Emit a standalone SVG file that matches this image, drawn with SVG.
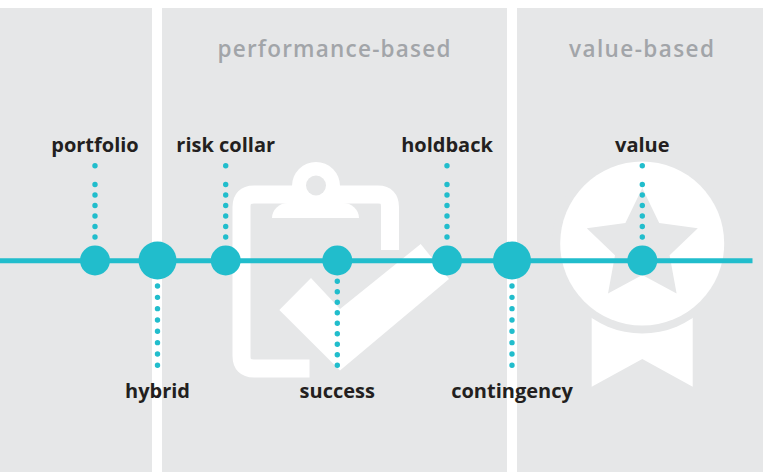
<svg xmlns="http://www.w3.org/2000/svg" width="763" height="472" viewBox="0 0 763 472">
  <style>
    .panel { fill: #e6e7e8; }
    .icon { fill: #ffffff; }
    .bgcut { fill: #e6e7e8; }
    .title { font-family: "Open Sans", "Liberation Sans", sans-serif; font-weight: 600; font-size: 22.5px; fill: #a2a5a9; text-anchor: middle; }
    .label { font-family: "Open Sans", "Liberation Sans", sans-serif; font-weight: 700; font-size: 20px; fill: #231f20; text-anchor: middle; }
    .node { fill: #21bdcc; }
    .timeline { stroke: #21bdcc; stroke-width: 5; fill: none; }
    .dots { stroke: #21bdcc; stroke-width: 5.4; stroke-linecap: round; fill: none; }
  </style>
  <rect width="763" height="472" fill="#ffffff"/>

  <g id="panels">
    <rect class="panel" x="0" y="8" width="152" height="464"/>
    <rect class="panel" x="162" y="8" width="345" height="464"/>
    <rect class="panel" x="517" y="8" width="246" height="464"/>
    <text class="title" x="334" y="57" textLength="233" lengthAdjust="spacing">performance-based</text>
    <text class="title" x="641.5" y="57" textLength="145" lengthAdjust="spacing">value-based</text>
  </g>

  <g id="clipboard-icon">
    <path fill="none" stroke="#ffffff" stroke-width="18" stroke-linejoin="round" d="M390 250 V207 Q390 194.5 378 194.5 H254 Q241.5 194.5 241.5 207 V356 Q241.5 368.5 254 368.5 H309.5"/>
    <circle class="icon" cx="316" cy="186" r="24"/>
    <circle class="bgcut" cx="316" cy="185.5" r="10"/>
    <path class="icon" d="M272 218 A16 15 0 0 1 288 203 H343 A16 15 0 0 1 359 218 Z"/>
    <polygon class="icon" points="279.3,310 311,278 340,309 420.7,244 449,279 340,370.5"/>
  </g>

  <g id="award-icon">
    <path class="icon" d="M591.7 300 H692.7 V386.7 L642.3 359 L591.7 386.7 Z"/>
    <circle class="bgcut" cx="642.2" cy="243.5" r="90"/>
    <circle class="icon" cx="642.2" cy="243.5" r="82"/>
    <polygon class="bgcut" points="642.3,187.9 659.2,223.1 697.8,228.3 669.6,255.2 676.6,293.5 642.3,275 608,293.5 615,255.2 586.8,228.3 625.4,223.1"/>
  </g>

  <g id="connectors">
    <line class="timeline" x1="0" y1="260.7" x2="752.5" y2="260.7"/>
    <line class="dots" x1="95" y1="237" x2="95" y2="174" stroke-dasharray="0 10.5"/>
    <line class="dots" x1="95" y1="165.7" x2="95" y2="165.7"/>
    <line class="dots" x1="225.7" y1="237" x2="225.7" y2="174" stroke-dasharray="0 10.5"/>
    <line class="dots" x1="225.7" y1="165.7" x2="225.7" y2="165.7"/>
    <line class="dots" x1="447" y1="237" x2="447" y2="174" stroke-dasharray="0 10.5"/>
    <line class="dots" x1="447" y1="165.7" x2="447" y2="165.7"/>
    <line class="dots" x1="642.3" y1="237" x2="642.3" y2="174" stroke-dasharray="0 10.5"/>
    <line class="dots" x1="642.3" y1="165.7" x2="642.3" y2="165.7"/>
    <line class="dots" x1="157.5" y1="286" x2="157.5" y2="365.4" stroke-dasharray="0 11.33"/>
    <line class="dots" x1="337.3" y1="281.3" x2="337.3" y2="365.4" stroke-dasharray="0 10.5"/>
    <line class="dots" x1="512" y1="286" x2="512" y2="365.4" stroke-dasharray="0 11.33"/>
  </g>

  <g id="node-portfolio">
    <circle class="node" cx="95" cy="260.5" r="15"/>
    <text class="label" x="95" y="152">portfolio</text>
  </g>
  <g id="node-hybrid">
    <circle class="node" cx="157.5" cy="260.5" r="19"/>
    <text class="label" x="157.5" y="398">hybrid</text>
  </g>
  <g id="node-risk-collar">
    <circle class="node" cx="225.7" cy="260.5" r="15"/>
    <text class="label" x="225.7" y="152">risk collar</text>
  </g>
  <g id="node-success">
    <circle class="node" cx="337.3" cy="260.5" r="15"/>
    <text class="label" x="337.3" y="398">success</text>
  </g>
  <g id="node-holdback">
    <circle class="node" cx="447" cy="260.5" r="15"/>
    <text class="label" x="447" y="152">holdback</text>
  </g>
  <g id="node-contingency">
    <circle class="node" cx="512" cy="260.5" r="19"/>
    <text class="label" x="512" y="398">contingency</text>
  </g>
  <g id="node-value">
    <circle class="node" cx="642.3" cy="260.5" r="15"/>
    <text class="label" x="642.3" y="152">value</text>
  </g>
</svg>
